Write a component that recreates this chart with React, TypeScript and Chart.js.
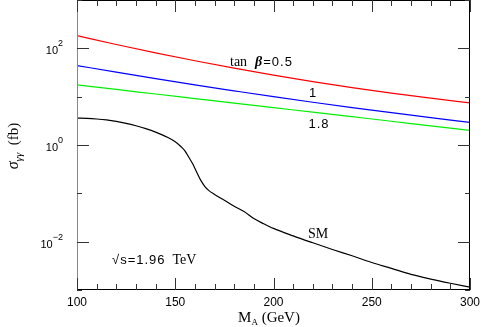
import React, { useEffect, useRef } from "react";
import { Chart, registerables } from "chart.js";

Chart.register(...registerables);

const massGrid = [100, 120, 140, 160, 180, 200, 220, 240, 260, 280, 300];
const tanb05 = [182.8, 120, 80.5, 55.3, 38.8, 27.9, 20.5, 15.4, 11.8, 9.3, 7.45];
const tanb1 = [44.0, 32.1, 23.6, 17.5, 13.2, 10.0, 7.67, 5.94, 4.66, 3.68, 2.94];
const tanb18 = [17.5, 14.1, 11.35, 9.14, 7.36, 5.93, 4.78, 3.85, 3.1, 2.49, 2.01];

const smMass = [100, 105, 110, 115, 120, 125, 130, 135, 140, 145, 150, 153, 155, 157, 159, 161, 163, 165, 167, 170, 175, 180, 185, 190, 195, 200, 210, 220, 230, 240, 250, 260, 270, 280, 290, 300];
const smXsec = [3.6, 3.55, 3.45, 3.3, 3.08, 2.81, 2.5, 2.18, 1.85, 1.51, 1.17, 0.92, 0.75, 0.55, 0.4, 0.27, 0.185, 0.14, 0.115, 0.095, 0.072, 0.054, 0.042, 0.03, 0.0235, 0.0188, 0.0132, 0.0095, 0.0069, 0.0051, 0.0037, 0.0028, 0.0021, 0.00168, 0.00138, 0.00115];

const xMajorTicks = [100, 150, 200, 250, 300];
const xMinorTicks = [110, 120, 130, 140, 160, 170, 180, 190, 210, 220, 230, 240, 260, 270, 280, 290];
const yMajorExp = [-2, 0, 2];
const yMinorExp = [-3, -1, 1, 3];
const yLabels = ["−2", "0", "2"];

const SANS = "'Liberation Sans', Arial, sans-serif";
const SERIF = "'Liberation Serif', 'Times New Roman', serif";

const framePlugin = {
  id: "frame",
  afterDraw(chart: any) {
    const ctx = chart.ctx;
    const xs = chart.scales.x;
    const ys = chart.scales.y;
    const { left, right, top, bottom } = chart.chartArea;
    ctx.save();
    ctx.lineWidth = 1;
    ctx.strokeStyle = "#000";
    ctx.beginPath();
    ctx.moveTo(left, top + 0.5);
    ctx.lineTo(right, top + 0.5);
    ctx.moveTo(right - 0.5, top);
    ctx.lineTo(right - 0.5, bottom);
    ctx.moveTo(left, bottom - 0.5);
    ctx.lineTo(right, bottom - 0.5);
    ctx.stroke();
    ctx.strokeStyle = "#888";
    ctx.beginPath();
    ctx.moveTo(left + 0.5, top);
    ctx.lineTo(left + 0.5, bottom);
    ctx.stroke();

    ctx.strokeStyle = "#333";
    ctx.beginPath();
    const xt = (v: number, len: number) => {
      const p = Math.round(xs.getPixelForValue(v)) + 0.5;
      ctx.moveTo(p, bottom);
      ctx.lineTo(p, bottom - len);
      ctx.moveTo(p, top);
      ctx.lineTo(p, top + len);
    };
    xMajorTicks.forEach((v) => xt(v, 12));
    xMinorTicks.forEach((v) => xt(v, 6));
    const yt = (e: number, len: number) => {
      const p = Math.round(ys.getPixelForValue(Math.pow(10, e))) + 0.5;
      ctx.moveTo(left, p);
      ctx.lineTo(left + len, p);
      ctx.moveTo(right, p);
      ctx.lineTo(right - len, p);
    };
    yMajorExp.forEach((e) => yt(e, 12));
    yMinorExp.forEach((e) => yt(e, 5));
    ctx.stroke();

    ctx.fillStyle = "#000";
    ctx.font = `12px ${SANS}`;
    ctx.textAlign = "center";
    ctx.textBaseline = "alphabetic";
    xMajorTicks.forEach((v) => {
      ctx.fillText(String(v), xs.getPixelForValue(v), 306);
    });
    yMajorExp.forEach((e, i) => {
      const p = ys.getPixelForValue(Math.pow(10, e));
      ctx.font = `9px ${SANS}`;
      const sw = ctx.measureText(yLabels[i]).width;
      ctx.textAlign = "left";
      ctx.fillText(yLabels[i], 63 - sw, p - 2);
      ctx.font = `11px ${SANS}`;
      ctx.textAlign = "right";
      ctx.fillText("10", 63 - sw, p + 6);
    });

    // x title
    ctx.textAlign = "left";
    ctx.font = `15px ${SERIF}`;
    const wM = ctx.measureText("M").width;
    const wRest = ctx.measureText(" (GeV)").width;
    ctx.font = `9px ${SERIF}`;
    const wA = ctx.measureText("A").width;
    const x0 = 269 - (wM + wA + wRest) / 2;
    ctx.font = `15px ${SERIF}`;
    ctx.fillText("M", x0, 322);
    ctx.font = `9px ${SERIF}`;
    ctx.fillText("A", x0 + wM, 325);
    ctx.font = `15px ${SERIF}`;
    ctx.fillText(" (GeV)", x0 + wM + wA, 322);

    // y title
    ctx.save();
    ctx.translate(18, 146);
    ctx.rotate(-Math.PI / 2);
    ctx.font = `italic 16px ${SERIF}`;
    const ws = ctx.measureText("σ").width;
    ctx.font = `italic 11px ${SERIF}`;
    const wg = ctx.measureText("γγ").width;
    ctx.font = `15px ${SERIF}`;
    const wf = ctx.measureText("  (fb)").width;
    const y0 = -(ws + wg + wf) / 2;
    ctx.font = `italic 16px ${SERIF}`;
    ctx.fillText("σ", y0, 0);
    ctx.font = `italic 11px ${SERIF}`;
    ctx.fillText("γγ", y0 + ws, 4);
    ctx.font = `15px ${SERIF}`;
    ctx.fillText("  (fb)", y0 + ws + wg, 0);
    ctx.restore();

    // curve labels
    ctx.textAlign = "left";
    let tx = 230;
    ctx.font = `14px ${SERIF}`;
    ctx.fillText("tan", tx, 66);
    tx += ctx.measureText("tan").width + 8;
    ctx.font = `bold italic 14px ${SERIF}`;
    ctx.fillText("β", tx, 66);
    tx += ctx.measureText("β").width + 1;
    ctx.font = `13px ${SANS}`;
    (ctx as any).letterSpacing = "1px";
    ctx.fillText("=0.5", tx, 66);

    ctx.textAlign = "center";
    ctx.fillText("1", 313, 97);
    ctx.fillText("1.8", 319, 128);
    (ctx as any).letterSpacing = "0px";
    ctx.font = `14px ${SERIF}`;
    ctx.fillText("SM", 318, 238);

    ctx.textAlign = "left";
    ctx.font = `13px ${SANS}`;
    (ctx as any).letterSpacing = "1px";
    ctx.fillText("√s=1.96", 112, 264);
    const w196 = ctx.measureText("√s=1.96").width;
    (ctx as any).letterSpacing = "0px";
    ctx.font = `14px ${SERIF}`;
    ctx.fillText("TeV", 112 + w196 + 7, 264);
    ctx.restore();
  },
};

export default function App() {
  const ref = useRef<HTMLCanvasElement>(null);
  useEffect(() => {
    document.body.style.margin = "0";
    const mk = (xs: number[], ys: number[]) => xs.map((x, i) => ({ x, y: ys[i] }));
    const chart = new Chart(ref.current!, {
      type: "line",
      data: {
        datasets: [
          { label: "tanβ=0.5", data: mk(massGrid, tanb05), borderColor: "#ff0000" },
          { label: "tanβ=1", data: mk(massGrid, tanb1), borderColor: "#0000ff" },
          { label: "tanβ=1.8", data: mk(massGrid, tanb18), borderColor: "#00f000" },
          { label: "SM", data: mk(smMass, smXsec), borderColor: "#000000" },
        ],
      },
      options: {
        responsive: false,
        animation: false,
        layout: { padding: { top: 0, right: 11, left: 0, bottom: 0 } },
        elements: {
          point: { radius: 0 },
          line: { borderWidth: 1.2, cubicInterpolationMode: "monotone", fill: false },
        },
        plugins: { legend: { display: false }, tooltip: { enabled: false } },
        scales: {
          x: {
            type: "linear",
            min: 100,
            max: 300,
            grid: { display: false },
            border: { display: false },
            ticks: { display: false },
            afterFit: (s: any) => {
              s.height = 37;
            },
          },
          y: {
            type: "logarithmic",
            min: 1e-3,
            max: 1e3,
            grid: { display: false },
            border: { display: false },
            ticks: { display: false },
            afterFit: (s: any) => {
              s.width = 77;
            },
          },
        },
      } as any,
      plugins: [framePlugin],
    });
    return () => chart.destroy();
  }, []);
  return (
    <div style={{ width: 481, height: 327 }}>
      <canvas ref={ref} width={481} height={327} style={{ display: "block" }} />
    </div>
  );
}
